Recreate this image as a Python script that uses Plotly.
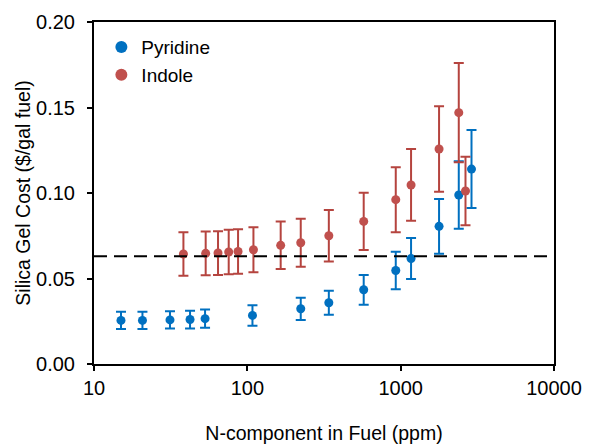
import plotly.graph_objects as go

# Pyridine series
pyr_x = [15, 20.7, 31.3, 42.3, 53, 108, 223, 340, 574, 929, 1169, 1780, 2393, 2897]
pyr_y = [0.0255, 0.0255, 0.0258, 0.026, 0.0265, 0.0284, 0.0323, 0.0358, 0.0434, 0.0547, 0.0617, 0.0805, 0.0988, 0.114]
pyr_err = [0.005, 0.005, 0.005, 0.0052, 0.0053, 0.006, 0.0065, 0.007, 0.0087, 0.011, 0.012, 0.016, 0.0197, 0.0228]

# Indole series
ind_x = [38.3, 53.5, 64.4, 75.6, 87, 109.6, 165, 223, 340, 574, 929, 1169, 1780, 2393, 2647]
ind_y = [0.0643, 0.0647, 0.0649, 0.0655, 0.0658, 0.0668, 0.0694, 0.0709, 0.075, 0.0834, 0.0961, 0.1047, 0.1257, 0.147, 0.1012]
ind_err = [0.0127, 0.0128, 0.0128, 0.013, 0.013, 0.0132, 0.0139, 0.014, 0.015, 0.0167, 0.019, 0.021, 0.025, 0.029, 0.020]

baseline = 0.063

BLUE = "#0070C0"
RED = "#C0504D"
FONT = "Liberation Sans, Arial, sans-serif"

fig = go.Figure()
fig.add_trace(go.Scatter(
    x=pyr_x, y=pyr_y, mode="markers", name="Pyridine",
    marker=dict(color=BLUE, size=9),
    error_y=dict(type="data", array=pyr_err, visible=True, color=BLUE, thickness=2, width=5),
))
fig.add_trace(go.Scatter(
    x=ind_x, y=ind_y, mode="markers", name="Indole",
    marker=dict(color=RED, size=9),
    error_y=dict(type="data", array=ind_err, visible=True, color="#B5443F", thickness=2, width=5),
))

fig.add_shape(type="line", xref="paper", yref="y", x0=0, x1=1, y0=baseline, y1=baseline,
              line=dict(color="black", width=2, dash="13px,7px"), layer="above")

fig.update_layout(
    width=598, height=444,
    margin=dict(l=86.3, r=51.7, t=14.3, b=87.7),
    paper_bgcolor="white", plot_bgcolor="white",
    font=dict(family=FONT, size=20, color="black"),
    showlegend=True,
    legend=dict(x=0.016, y=0.982, xanchor="left", yanchor="top", bgcolor="rgba(0,0,0,0)",
                font=dict(size=19), tracegroupgap=0, itemsizing="constant"),
    xaxis=dict(
        type="log", range=[1, 4], automargin=False,
        tickvals=[10, 100, 1000, 10000], ticktext=["10", "100", "1000", "10000"],
        ticks="outside", ticklen=5, tickwidth=2, tickcolor="black",
        showline=True, linecolor="black", linewidth=2, mirror=True,
        showgrid=False, zeroline=False,
        title=dict(text="N-component in Fuel (ppm)", font=dict(size=19.5), standoff=28),
    ),
    yaxis=dict(
        range=[0, 0.2], tickvals=[0, 0.05, 0.1, 0.15, 0.2], tickformat=".2f", automargin=False,
        ticks="outside", ticklen=5, tickwidth=2, tickcolor="black",
        showline=True, linecolor="black", linewidth=2, mirror=True,
        showgrid=False, zeroline=False, ticklabelstandoff=8,
        title=dict(text="Silica Gel Cost ($/gal fuel)", font=dict(size=19.5), standoff=0),
    ),
)

fig.write_html("out.html")
